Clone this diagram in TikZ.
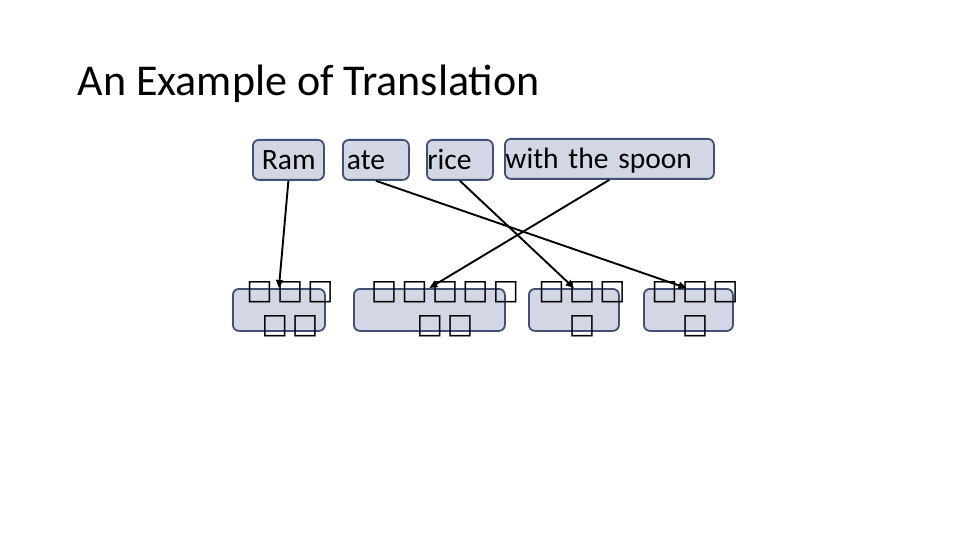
\documentclass[tikz,border=0pt]{standalone}
\usepackage{fontspec}
\setmainfont{Carlito}
\newfontfamily\glyphfont{DejaVu Sans}
\usetikzlibrary{arrows.meta}
\definecolor{boxfill}{HTML}{D3D6E4}
\definecolor{boxedge}{HTML}{3F5275}
\newcommand{\nochar}{\kern2pt{\glyphfont □}\kern2pt}

\begin{document}
\begin{tikzpicture}[x=1pt, y=-1pt]
  \tikzset{
    wordbox/.style={draw=boxedge, fill=boxfill, line width=1.8pt, rounded corners=6pt,
      minimum height=40pt, inner ysep=0pt, text height=19pt, text depth=0pt,
      align=left, anchor=north west, font=\fontsize{29.5}{32}\selectfont},
    hindibox/.style={draw=boxedge, fill=boxfill, line width=1.8pt, rounded corners=6pt,
      minimum height=42pt, inner sep=0pt, anchor=north west},
    hinditext/.style={align=center, inner sep=0pt, font=\fontsize{28}{34}\selectfont},
    link/.style={line width=1.9pt, -{Triangle[length=8pt,width=7pt]}}
  }
  \useasboundingbox (0,0) rectangle (960,540);
  \node[anchor=base west, font=\fontsize{44}{48}\selectfont] (title) at (74,96) {An Example of Translation};

  % English words
  \node[wordbox, text width=53pt, inner xsep=9pt] (ram) at (252,139) {Ram};
  \node[wordbox, text width=58pt, inner xsep=4pt] (ate) at (342,139) {ate};
  \node[wordbox, text width=65pt, inner xsep=0.5pt] (rice) at (426,139) {rice};
  \node[wordbox, text width=208pt, inner xsep=0.5pt] (spoon) at (504,138) {with the spoon};

  % translated words
  \node[hindibox, minimum width=92pt] (hiRam) at (232,288) {};
  \node[hindibox, minimum width=151pt] (hiSpoon) at (353,288) {};
  \node[hindibox, minimum width=90pt] (hiRice) at (528,288) {};
  \node[hindibox, minimum width=89pt] (hiAte) at (643,288) {};
  \node[hinditext] (hiRamText) at (290,309) {\nochar\nochar\nochar\\\nochar\nochar};
  \node[hinditext] (hiSpoonText) at (445,309) {\nochar\nochar\nochar\nochar\nochar\\\nochar\nochar};
  \node[hinditext] (hiRiceText) at (582,309) {\nochar\nochar\nochar\\\nochar};
  \node[hinditext] (hiAteText) at (695,309) {\nochar\nochar\nochar\\\nochar};

  \draw[link] (ram.south) -- (hiRam.north);
  \draw[link] (ate.south) -- ([xshift=-2pt]hiAte.north);
  \draw[link] (rice.south) -- (hiRice.north);
  \draw[link] (spoon.south) -- (hiSpoon.north);
\end{tikzpicture}
\end{document}
